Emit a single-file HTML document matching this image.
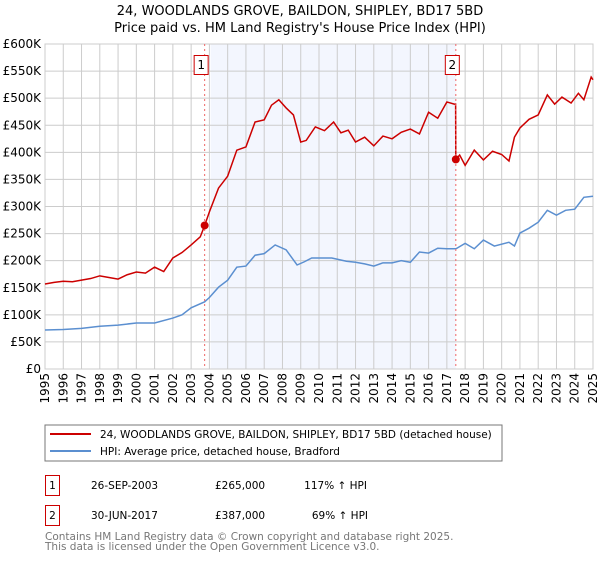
<!DOCTYPE html>
<html><head><meta charset="utf-8"><style>
body{margin:0;background:#fff;font-family:"DejaVu Sans","Liberation Sans",sans-serif;}
svg text{font-family:"DejaVu Sans","Liberation Sans",sans-serif;}
</style></head><body>
<svg width="600" height="560" xmlns="http://www.w3.org/2000/svg">
<text x="300" y="15" text-anchor="middle" font-size="13">24, WOODLANDS GROVE, BAILDON, SHIPLEY, BD17 5BD</text>
<text x="300" y="32" text-anchor="middle" font-size="13">Price paid vs. HM Land Registry's House Price Index (HPI)</text>
<g id="plot"></g>
<rect x="45" y="425" width="457" height="36" fill="#fff" stroke="#777"/>
<line x1="50" y1="434" x2="91" y2="434" stroke="#cc0000" stroke-width="2"/>
<text x="100" y="438" font-size="10.5">24, WOODLANDS GROVE, BAILDON, SHIPLEY, BD17 5BD (detached house)</text>
<line x1="50" y1="451" x2="91" y2="451" stroke="#5b8fd0" stroke-width="2"/>
<text x="100" y="455" font-size="10.5">HPI: Average price, detached house, Bradford</text>
<g font-size="10.5">
<rect x="45.5" y="475.5" width="14" height="20" fill="#fff" stroke="#cc0000"/>
<text x="52.5" y="489" text-anchor="middle">1</text>
<text x="91" y="489">26-SEP-2003</text>
<text x="215" y="489">£265,000</text>
<text x="367" y="489" text-anchor="end">117% ↑ HPI</text>
<rect x="45.5" y="505.5" width="14" height="20" fill="#fff" stroke="#cc0000"/>
<text x="52.5" y="519" text-anchor="middle">2</text>
<text x="91" y="519">30-JUN-2017</text>
<text x="215" y="519">£387,000</text>
<text x="368" y="519" text-anchor="end">69% ↑ HPI</text>
</g>
<text x="45" y="540" font-size="10.5" fill="#777">Contains HM Land Registry data © Crown copyright and database right 2025.</text>
<text x="45" y="550" font-size="10.5" fill="#777">This data is licensed under the Open Government Licence v3.0.</text>
</svg>
<script>
const yTicks=[0,50,100,150,200,250,300,350,400,450,500,550,600];
const yTickLabels=["£0","£50K","£100K","£150K","£200K","£250K","£300K","£350K","£400K","£450K","£500K","£550K","£600K"];
const years=[1995,1996,1997,1998,1999,2000,2001,2002,2003,2004,2005,2006,2007,2008,2009,2010,2011,2012,2013,2014,2015,2016,2017,2018,2019,2020,2021,2022,2023,2024,2025];
const redX=[1995,1995.5,1996,1996.5,1997,1997.5,1998,1998.5,1999,1999.5,2000,2000.5,2001,2001.5,2002,2002.5,2003,2003.5,2003.74,2004,2004.5,2005,2005.5,2006,2006.5,2007,2007.4,2007.8,2008.2,2008.6,2009,2009.3,2009.8,2010.3,2010.8,2011.2,2011.6,2012,2012.5,2013,2013.5,2014,2014.5,2015,2015.5,2016,2016.5,2017,2017.4,2017.48,2017.49,2017.7,2018,2018.5,2019,2019.5,2020,2020.4,2020.7,2021,2021.5,2022,2022.5,2022.9,2023.3,2023.8,2024.2,2024.5,2024.9,2025];
const redY=[157,160,162,161,164,167,172,169,166,174,179,177,188,180,205,215,229,244,265,290,334,356,404,410,456,460,487,497,482,469,419,422,447,440,456,436,441,419,428,412,430,425,437,443,434,474,463,493,489,489,387,395,376,404,386,402,396,384,428,445,461,469,506,489,502,491,509,497,539,534];
const blueX=[1995,1996,1997,1998,1999,2000,2001,2002,2002.5,2003,2003.74,2004,2004.5,2005,2005.5,2006,2006.5,2007,2007.6,2008.2,2008.8,2009.2,2009.6,2010,2010.7,2011.5,2012,2012.5,2013,2013.5,2014,2014.5,2015,2015.5,2016,2016.5,2017,2017.5,2018,2018.5,2019,2019.6,2020.4,2020.7,2021,2021.5,2022,2022.5,2023,2023.5,2024,2024.5,2025];
const blueY=[72,73,75,79,81,85,85,94,100,113,124,132,151,164,188,190,210,213,229,220,192,198,205,205,205,199,197,194,190,196,196,200,197,216,214,223,222,222,232,222,238,227,234,227,251,260,271,293,284,293,295,317,319];
const sales=[[2003.74,265],[2017.49,387]];
const X0=45,X1=593,Y0=369,Y1=44;
const xs=y=>X0+(y-1995)/30*(X1-X0);
const ys=v=>Y0-v/600*(Y0-Y1);
const NS="http://www.w3.org/2000/svg";
const g=document.getElementById('plot');
function mk(t,a){const e=document.createElementNS(NS,t);for(const k in a)e.setAttribute(k,a[k]);g.appendChild(e);return e;}
const sh=mk('rect',{x:xs(2003.74)+6,y:Y1,width:xs(sales[1][0])-xs(2003.74)-6,height:Y0-Y1,fill:'#eef2fd',opacity:0.7});


yTicks.forEach((t,i)=>{
 const l=mk('line',{x1:X0,x2:X1,y1:ys(t),y2:ys(t),stroke:'#cccccc','stroke-width':1});
 
 
 const tx=mk('text',{x:X0-4,y:ys(t)+4,'text-anchor':'end','font-size':12});
 tx.textContent=yTickLabels[i];
 
 
});
years.forEach(yr=>{
 const l=mk('line',{x1:xs(yr),x2:xs(yr),y1:Y1,y2:Y0,stroke:'#cccccc','stroke-width':1});
 
 
 const tx=mk('text',{x:0,y:0,'text-anchor':'end','font-size':12,transform:`translate(${xs(yr)+4},${Y0+4}) rotate(-90)`});
 tx.textContent=yr;
 
 
});
const fr=mk('rect',{x:X0,y:Y1,width:X1-X0,height:Y0-Y1,fill:'none',stroke:'#cccccc'});


const bl=mk('polyline',{points:blueX.map((x,i)=>xs(x)+','+ys(blueY[i])).join(' '),fill:'none',stroke:'#5b8fd0','stroke-width':1.5});


const rl=mk('polyline',{points:redX.map((x,i)=>xs(x)+','+ys(redY[i])).join(' '),fill:'none',stroke:'#cc0000','stroke-width':1.5});


sales.forEach((s,i)=>{
 const d=mk('line',{x1:xs(s[0]),x2:xs(s[0]),y1:Y1,y2:Y0,stroke:'#ee6666','stroke-dasharray':'2,3','stroke-width':1});
 
 
 const c=mk('circle',{cx:xs(s[0]),cy:ys(s[1]),r:4,fill:'#cc0000'});
 
 
 const b=mk('rect',{x:xs(s[0])-10.5,y:55.5,width:14,height:19,fill:'#fff',stroke:'#cc0000'});
 
 
 const t=mk('text',{x:xs(s[0])-3.5,y:69,'text-anchor':'middle','font-size':12});
 t.textContent=String(i+1);
 
 
});
</script>
</body></html>
